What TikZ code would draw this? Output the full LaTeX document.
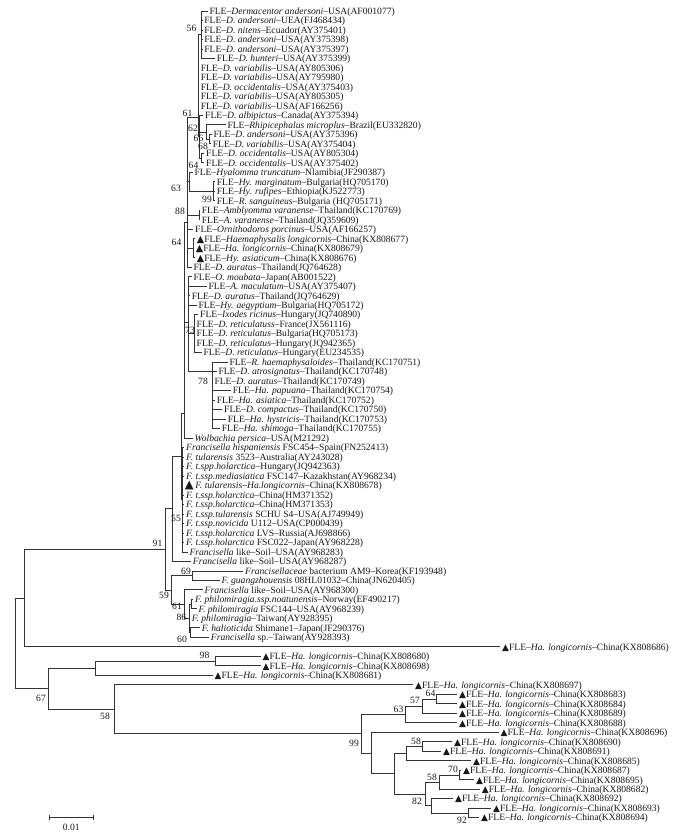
\documentclass[tikz,border=0pt]{standalone}
\usepackage{fontspec}
\setmainfont{Liberation Serif}
\newfontfamily\dvsym{DejaVu Sans}
\newcommand\tria{{\dvsym\fontsize{9}{9}\selectfont ▲}}
\newcommand\trib{{\dvsym\fontsize{9.6}{9.6}\selectfont ▲}}
\newcommand\tric{{\dvsym\fontsize{11.5}{11.5}\selectfont ▲}}
\pgfmathdeclarefunction{ry}{1}{\pgfmathparse{11+(#1-1)*9.49}}
\tikzset{
  br/.style={draw=black!80, line width=0.8pt},
  leaf/.style={anchor=west, inner xsep=1.7pt, inner ysep=0pt, text height=6.6pt, text depth=0pt,
    font=\fontsize{9.6}{10}\selectfont, text=black!90},
  bs/.style={inner sep=0pt, font=\fontsize{9.6}{10}\selectfont, text=black!90},
}
\begin{document}
\begin{tikzpicture}[x=1pt,y=-1pt]
\fill[white] (0,0) rectangle (679,835);
\path[use as bounding box] (0,0) rectangle (679,835);

% ---------- internal nodes ----------
\coordinate (root) at (15.7,643.4);
\coordinate (n1) at (24.3,598.1);
\coordinate (n91) at (165,549.3);
\coordinate (nA55) at (172.7,508.7);
\coordinate (nBB) at (181,456);
\coordinate (nTul) at (182.3,499.7);
\coordinate (nB1) at (184,413);
\coordinate (nA) at (187,222);
\coordinate (nTop) at (198.3,117);
\coordinate (n56) at (201.7,34.7);
\coordinate (n61) at (199.3,136.7);
\coordinate (n62) at (206,132);
\coordinate (n66) at (209.3,139.1);
\coordinate (n64b) at (201.5,158.1);
\coordinate (n63) at (189.3,181.8);
\coordinate (n99) at (213.3,191.3);
\coordinate (n88) at (199.3,215.0);
\coordinate (n64c) at (193.3,248.25);
\coordinate (nM) at (188.3,322);
\coordinate (n73) at (194,333.66);
\coordinate (n78) at (212,371.62);
\coordinate (n59) at (171.7,589.9);
\coordinate (n69) at (192.7,575.66);
\coordinate (n61b) at (184.3,604.1);
\coordinate (n86) at (189.3,618.4);
\coordinate (nP) at (191,604.13);
\coordinate (n60) at (190,632.6);
\coordinate (n67) at (48.3,688.7);
\coordinate (nA2) at (95.7,668.2);
\coordinate (n98) at (215,661.07);
\coordinate (n58) at (114.3,709.2);
\coordinate (n99b) at (361.7,733.7);
\coordinate (n63b) at (405.7,714.4);
\coordinate (n57) at (422.7,706.1);
\coordinate (n64) at (436.7,699.0);
\coordinate (nX) at (371,753.0);
\coordinate (nY) at (394.3,773.8);
\coordinate (nBb) at (406.7,753.6);
\coordinate (n58a) at (422.7,746.5);
\coordinate (n82) at (425,793.9);
\coordinate (n58b) at (439.3,782.0);
\coordinate (n70) at (459.3,774.9);
\coordinate (nC) at (431,805.8);
\coordinate (n92) at (468.3,812.9);

% ---------- leaves ----------
\node[leaf] (L1) at (207.6,{ry(1)}) {FLE–\textit{Dermacentor andersoni}–USA(AF001077)};
\node[leaf] (L2) at (202.4,{ry(2)}) {FLE–\textit{D. andersoni}–UEA(FJ468434)};
\node[leaf] (L3) at (202.4,{ry(3)}) {FLE–\textit{D. nitens}–Ecuador(AY375401)};
\node[leaf] (L4) at (202.4,{ry(4)}) {FLE–\textit{D. andersoni}–USA(AY375398)};
\node[leaf] (L5) at (202.4,{ry(5)}) {FLE–\textit{D. andersoni}–USA(AY375397)};
\node[leaf] (L6) at (215.0,{ry(6)}) {FLE–\textit{D. hunteri}–USA(AY375399)};
\node[leaf] (L7) at (199.0,{ry(7)}) {FLE–\textit{D. variabilis}–USA(AY805306)};
\node[leaf] (L8) at (199.0,{ry(8)}) {FLE–\textit{D. variabilis}–USA(AY795980)};
\node[leaf] (L9) at (199.0,{ry(9)}) {FLE–\textit{D. occidentalis}–USA(AY375403)};
\node[leaf] (L10) at (199.0,{ry(10)}) {FLE–\textit{D. variabilis}–USA(AY805305)};
\node[leaf] (L11) at (199.0,{ry(11)}) {FLE–\textit{D. variabilis}–USA(AF166256)};
\node[leaf] (L12) at (203.3,{ry(12)}) {FLE–\textit{D. albipictus}–Canada(AY375394)};
\node[leaf] (L13) at (225.6,{ry(13)}) {FLE–\textit{Rhipicephalus microplus}–Brazil(EU332820)};
\node[leaf] (L14) at (211.6,{ry(14)}) {FLE–\textit{D. andersoni}–USA(AY375396)};
\node[leaf] (L15) at (211.0,{ry(15)}) {FLE–\textit{D. variabilis}–USA(AY375404)};
\node[leaf] (L16) at (204.3,{ry(16)}) {FLE–\textit{D. occidentalis}–USA(AY805304)};
\node[leaf] (L17) at (204.3,{ry(17)}) {FLE–\textit{D. occidentalis}–USA(AY375402)};
\node[leaf] (L18) at (192.6,{ry(18)}) {FLE–\textit{Hyalomma truncatum}–Nlamibia(JF290387)};
\node[leaf] (L19) at (215.0,{ry(19)}) {FLE–\textit{Hy. marginatum}–Bulgaria(HQ705170)};
\node[leaf] (L20) at (215.0,{ry(20)}) {FLE–\textit{Hy. rufipes}–Ethiopia(KJ522773)};
\node[leaf] (L21) at (215.0,{ry(21)}) {FLE–\textit{R. sanguineus}–Bulgaria (HQ705171)};
\node[leaf] (L22) at (200.0,{ry(22)}) {FLE–\textit{Amblyomma varanense}–Thailand(KC170769)};
\node[leaf] (L23) at (200.0,{ry(23)}) {FLE–\textit{A. varanense}–Thailand(JQ359609)};
\node[leaf] (L24) at (193.3,{ry(24)}) {FLE–\textit{Ornithodoros porcinus}–USA(AF166257)};
\node[leaf] (L25) at (195.0,{ry(25)}) {\trib FLE–\textit{Haemaphysalis longicornis}–China(KX808677)};
\node[leaf] (L26) at (194.0,{ry(26)}) {\trib FLE–\textit{Ha. longicornis}–China(KX808679)};
\node[leaf] (L27) at (195.0,{ry(27)}) {\trib FLE–\textit{Hy. asiaticum}–China(KX808676)};
\node[leaf] (L28) at (191.6,{ry(28)}) {FLE–\textit{D. auratus}–Thailand(JQ764628)};
\node[leaf] (L29) at (191.6,{ry(29)}) {FLE–\textit{O. moubata}–Japan(AB001522)};
\node[leaf] (L30) at (206.6,{ry(30)}) {FLE–\textit{A. maculatum}–USA(AY375407)};
\node[leaf] (L31) at (190.0,{ry(31)}) {FLE–\textit{D. auratus}–Thailand(JQ764629)};
\node[leaf] (L32) at (196.6,{ry(32)}) {FLE–\textit{Hy. aegyptium}–Bulgaria(HQ705172)};
\node[leaf] (L33) at (198.3,{ry(33)}) {FLE–\textit{Ixodes ricinus}–Hungary(JQ740890)};
\node[leaf] (L34) at (194.8,{ry(34)}) {FLE–\textit{D. reticulatuss}–France(JX561116)};
\node[leaf] (L35) at (194.8,{ry(35)}) {FLE–\textit{D. reticulatus}–Bulgaria(HQ705173)};
\node[leaf] (L36) at (194.8,{ry(36)}) {FLE–\textit{D. reticulatus}–Hungary(JQ942365)};
\node[leaf] (L37) at (201.6,{ry(37)}) {FLE–\textit{D. reticulatus}–Hungary(EU234535)};
\node[leaf] (L38) at (227.6,{ry(38)}) {FLE–\textit{R. haemaphysaloides}–Thailand(KC170751)};
\node[leaf] (L39) at (216.6,{ry(39)}) {FLE–\textit{D. atrosignatus}–Thailand(KC170748)};
\node[leaf] (L40) at (212.6,{ry(40)}) {FLE–\textit{D. auratus}–Thailand(KC170749)};
\node[leaf] (L41) at (231.0,{ry(41)}) {FLE–\textit{Ha. papuana}–Thailand(KC170754)};
\node[leaf] (L42) at (215.0,{ry(42)}) {FLE–\textit{Ha. asiatica}–Thailand(KC170752)};
\node[leaf] (L43) at (222.3,{ry(43)}) {FLE–\textit{D. compactus}–Thailand(KC170750)};
\node[leaf] (L44) at (226.0,{ry(44)}) {FLE–\textit{Ha. hystricis}–Thailand(KC170753)};
\node[leaf] (L45) at (220.0,{ry(45)}) {FLE–\textit{Ha. shimoga}–Thailand(KC170755)};
\node[leaf] (L46) at (192.8,{ry(46)}) {\textit{Wolbachia persica}–USA(M21292)};
\node[leaf] (L47) at (184.3,{ry(47)}) {\textit{Francisella hispaniensis} FSC454–Spain(FN252413)};
\node[leaf] (L48) at (184.3,{ry(48)}) {\textit{F. tularensis} 3523–Australia(AY243028)};
\node[leaf] (L49) at (184.3,{ry(49)}) {\textit{F. t.spp.holarctica}–Hungary(JQ942363)};
\node[leaf] (L50) at (184.3,{ry(50)}) {\textit{F. t.ssp.mediasiatica} FSC147–Kazakhstan(AY968234)};
\node[leaf] (L51) at (183.0,{ry(51)}) {\tric\,\textit{F. tularensis}–\textit{Ha.longicornis}–China(KX808678)};
\node[leaf] (L52) at (184.3,{ry(52)}) {\textit{F. t.ssp.holarctica}–China(HM371352)};
\node[leaf] (L53) at (184.3,{ry(53)}) {\textit{F. t.ssp.holarctica}–China(HM371353)};
\node[leaf] (L54) at (184.3,{ry(54)}) {\textit{F. t.ssp.tularensis} SCHU S4–USA(AJ749949)};
\node[leaf] (L55) at (184.3,{ry(55)}) {\textit{F. t.ssp.novicida} U112–USA(CP000439)};
\node[leaf] (L56) at (184.3,{ry(56)}) {\textit{F. t.ssp.holarctica} LVS–Russia(AJ698866)};
\node[leaf] (L57) at (184.3,{ry(57)}) {\textit{F. t.ssp.holarctica} FSC022–Japan(AY968228)};
\node[leaf] (L58) at (187.6,{ry(58)}) {\textit{Francisella} like–Soil–USA(AY968283)};
\node[leaf] (L59) at (191.0,{ry(59)}) {\textit{Francisella} like–Soil–USA(AY968287)};
\node[leaf] (L60) at (243.3,{ry(60)}) {\textit{Francisellaceae} bacterium AM9–Korea(KF193948)};
\node[leaf] (L61) at (219.8,{ry(61)}) {\textit{F. guangzhouensis} 08HL01032–China(JN620405)};
\node[leaf] (L62) at (202.8,{ry(62)}) {\textit{Francisella} like–Soil–USA(AY968300)};
\node[leaf] (L63) at (193.3,{ry(63)}) {\textit{F. philomiragia.ssp.noatunensis}–Norway(EF490217)};
\node[leaf] (L64) at (196.6,{ry(64)}) {\textit{F. philomiragia} FSC144–USA(AY968239)};
\node[leaf] (L65) at (190.0,{ry(65)}) {\textit{F. philomiragia}–Taiwan(AY928395)};
\node[leaf] (L66) at (200.0,{ry(66)}) {\textit{F. halioticida} Shimane1–Japan(JF290376)};
\node[leaf] (L67) at (209.0,{ry(67)}) {\textit{Francisella} sp.–Taiwan(AY928393)};
\node[leaf] (L68) at (500.3,{ry(68)}) {\tria FLE–\textit{Ha. longicornis}–China(KX808686)};
\node[leaf] (L69) at (260.8,{ry(69)}) {\tria FLE–\textit{Ha. longicornis}–China(KX808680)};
\node[leaf] (L70) at (260.8,{ry(70)}) {\tria FLE–\textit{Ha. longicornis}–China(KX808698)};
\node[leaf] (L71) at (212.8,{ry(71)}) {\tria FLE–\textit{Ha. longicornis}–China(KX808681)};
\node[leaf] (L72) at (413.3,{ry(72)}) {\tria FLE–\textit{Ha. longicornis}–China(KX808697)};
\node[leaf] (L73) at (457.3,{ry(73)}) {\tria FLE–\textit{Ha. longicornis}–China(KX808683)};
\node[leaf] (L74) at (457.3,{ry(74)}) {\tria FLE–\textit{Ha. longicornis}–China(KX808684)};
\node[leaf] (L75) at (457.3,{ry(75)}) {\tria FLE–\textit{Ha. longicornis}–China(KX808689)};
\node[leaf] (L76) at (457.3,{ry(76)}) {\tria FLE–\textit{Ha. longicornis}–China(KX808688)};
\node[leaf] (L77) at (498.8,{ry(77)}) {\tria FLE–\textit{Ha. longicornis}–China(KX808696)};
\node[leaf] (L78) at (452.3,{ry(78)}) {\tria FLE–\textit{Ha. longicornis}–China(KX808690)};
\node[leaf] (L79) at (441.3,{ry(79)}) {\tria FLE–\textit{Ha. longicornis}–China(KX808691)};
\node[leaf] (L80) at (471.3,{ry(80)}) {\tria FLE–\textit{Ha. longicornis}–China(KX808685)};
\node[leaf] (L81) at (461.3,{ry(81)}) {\tria FLE–\textit{Ha. longicornis}–China(KX808687)};
\node[leaf] (L82) at (474.3,{ry(82)}) {\tria FLE–\textit{Ha. longicornis}–China(KX808695)};
\node[leaf] (L83) at (480.0,{ry(83)}) {\tria FLE–\textit{Ha. longicornis}–China(KX808682)};
\node[leaf] (L84) at (453.3,{ry(84)}) {\tria FLE–\textit{Ha. longicornis}–China(KX808692)};
\node[leaf] (L85) at (491.3,{ry(85)}) {\tria FLE–\textit{Ha. longicornis}–China(KX808693)};
\node[leaf] (L86) at (479.3,{ry(86)}) {\tria FLE–\textit{Ha. longicornis}–China(KX808694)};

% ---------- branches ----------
\foreach \p/\c in {root/n1, root/n67, n1/n91, n1/L68, n91/nA55, n91/n59,
  nA55/nBB, nA55/L59, nBB/nB1, nBB/nTul,
  nTul/L47, nTul/L48, nTul/L49, nTul/L50, nTul/L51, nTul/L52, nTul/L53, nTul/L54,
  nTul/L55, nTul/L56, nTul/L57, nTul/L58,
  nB1/nA, nB1/nM, nB1/L46,
  nA/nTop, nA/n63, nA/n88, nA/L24, nA/n64c, nA/L28,
  nTop/n56, nTop/L7, nTop/L8, nTop/L9, nTop/L10, nTop/L11, nTop/n61,
  n56/L1, n56/L2, n56/L3, n56/L4, n56/L5, n56/L6,
  n61/L12, n61/n62, n61/n64b, n62/L13, n62/n66, n66/L14, n66/L15, n64b/L16, n64b/L17,
  n63/L18, n63/n99, n99/L19, n99/L20, n99/L21, n88/L22, n88/L23,
  n64c/L25, n64c/L26, n64c/L27,
  nM/L29, nM/L30, nM/L31, nM/L32, nM/n73, nM/n78,
  n73/L33, n73/L34, n73/L35, n73/L36, n73/L37,
  n78/L38, n78/L39, n78/L40, n78/L41, n78/L42, n78/L43, n78/L44, n78/L45,
  n59/n69, n59/n61b, n69/L60, n69/L61, n61b/L62, n61b/n86,
  n86/nP, n86/L65, n86/n60, nP/L63, nP/L64, n60/L66, n60/L67,
  n67/nA2, n67/n58, nA2/n98, nA2/L71, n98/L69, n98/L70,
  n58/L72, n58/n99b, n99b/n63b, n99b/nX,
  n63b/n57, n63b/L76, n57/n64, n57/L75, n64/L73, n64/L74,
  nX/L77, nX/nY, nY/nBb, nY/n82, nBb/n58a, nBb/L80, n58a/L78, n58a/L79,
  n82/n58b, n82/nC, n58b/n70, n58b/L83, n70/L81, n70/L82,
  nC/L84, nC/n92, n92/L85, n92/L86}
  \draw[br] (\p) |- (\c);

% ---------- bootstrap values ----------
\node[bs] (b56) at (191.5,28.5) {56};
\node[bs] (b61) at (187.5,113) {61};
\node[bs] (b62) at (193,128) {62};
\node[bs] (b66) at (198.5,138) {66};
\node[bs] (b68) at (203,146) {68};
\node[bs] (b64a) at (193.5,165) {64};
\node[bs] (b63) at (176,188.5) {63};
\node[bs] (b99a) at (207,199) {99};
\node[bs] (b88) at (180,211.5) {88};
\node[bs] (b64b) at (176.5,242.5) {64};
\node[bs] (b73) at (190,330) {73};
\node[bs] (b78) at (203,381.5) {78};
\node[bs] (b55) at (176,518.3) {55};
\node[bs] (b91) at (157.5,543) {91};
\node[bs] (b69) at (186,571) {69};
\node[bs] (b59) at (164,595) {59};
\node[bs] (b61b) at (177,606.5) {61};
\node[bs] (b86) at (181.3,617.5) {86};
\node[bs] (b60) at (182,639) {60};
\node[bs] (b98) at (204.5,655) {98};
\node[bs] (b67) at (41,698) {67};
\node[bs] (b58a) at (105,716.5) {58};
\node[bs] (b99b) at (354,743) {99};
\node[bs] (b63b) at (398.5,709) {63};
\node[bs] (b57) at (415,700.5) {57};
\node[bs] (b64c) at (430.5,693.2) {64};
\node[bs] (b58b) at (416,741.5) {58};
\node[bs] (b70) at (453,769) {70};
\node[bs] (b58c) at (432,777) {58};
\node[bs] (b82) at (417,801.5) {82};
\node[bs] (b92) at (462,820) {92};

% ---------- scale bar ----------
\coordinate (sb1) at (49.3,817.7);
\coordinate (sb2) at (93.3,817.7);
\draw[br] (sb1) -- (sb2);
\draw[br] (sb1) ++(0,-2.5) -- ++(0,5);
\draw[br] (sb2) ++(0,-2.5) -- ++(0,5);
\node[bs] (sbl) at (71.3,827) {0.01};
\end{tikzpicture}
\end{document}
